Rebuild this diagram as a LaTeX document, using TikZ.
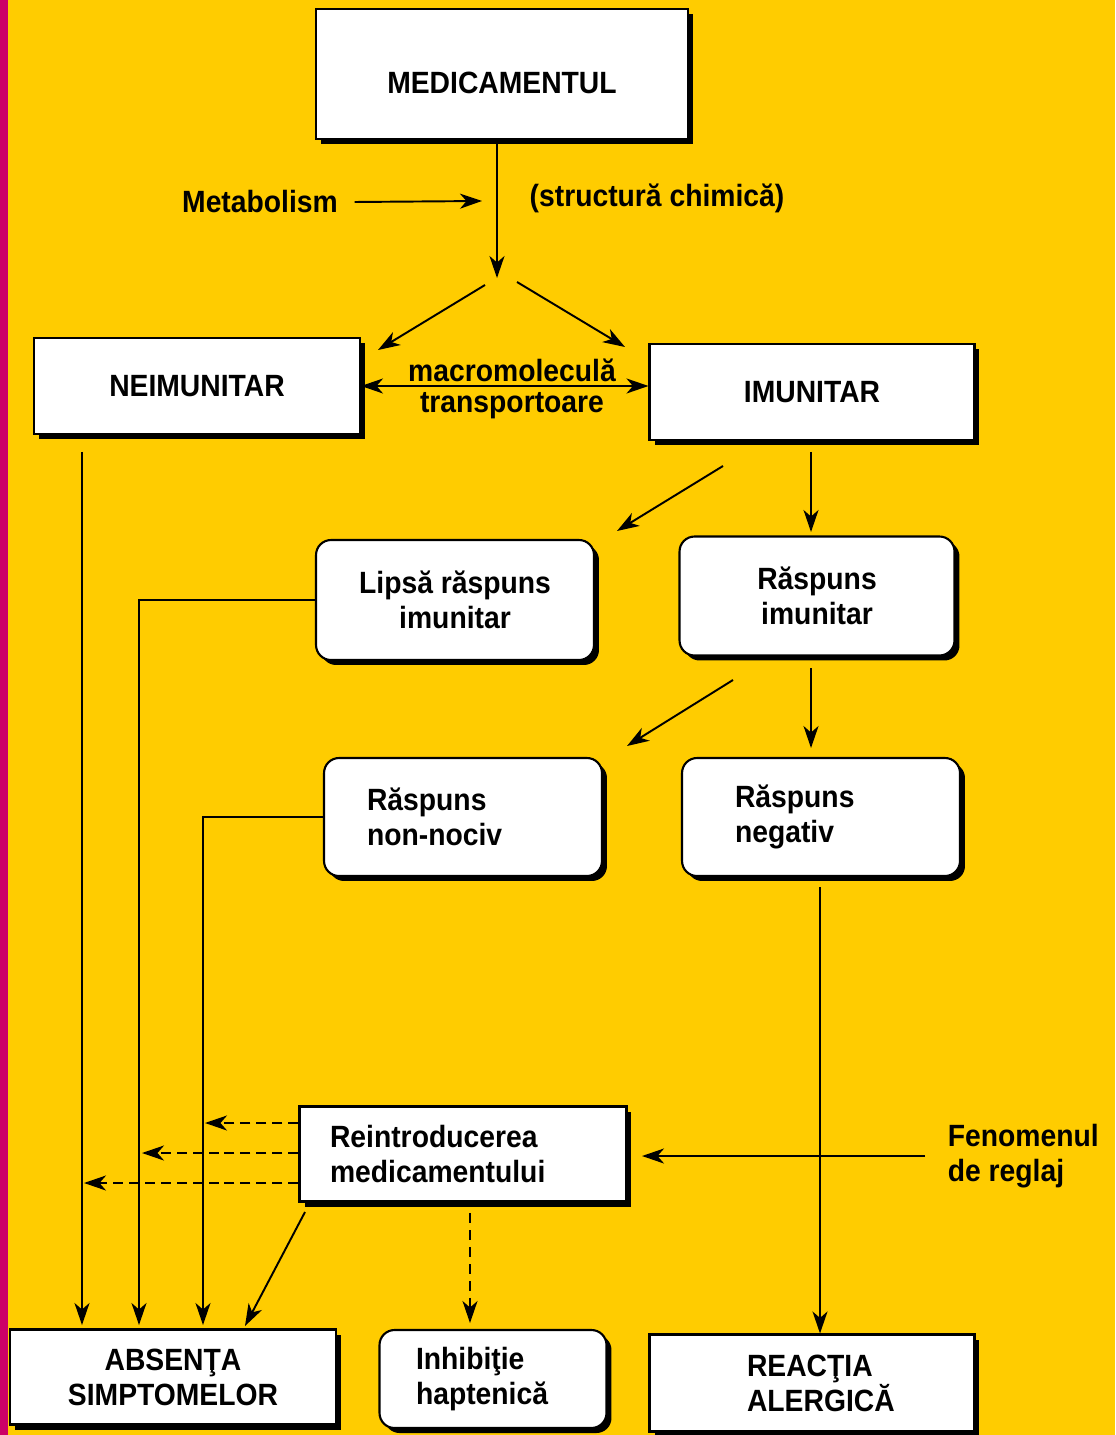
\documentclass[tikz,border=0pt]{standalone}
\usepackage{fontspec}
\setmainfont{Liberation Sans}[FakeStretch=0.92]
\usetikzlibrary{arrows.meta,shadows}
\definecolor{bgyellow}{HTML}{FFCC00}
\definecolor{bgmagenta}{HTML}{CC0066}
\begin{document}
\begin{tikzpicture}[x=0.02cm, y=-0.02cm, line width=1.1pt,
  >={Stealth[length=0.44cm, width=0.3cm, inset=0.13cm]},
  every node/.style={font=\bfseries\fontsize{17.5}{20}\selectfont},
  box/.style={draw, fill=white, rectangle, line width=1.2pt,
    drop shadow={shadow xshift=0.1cm, shadow yshift=-0.1cm, fill=black, opacity=1}},
  rbox/.style={box, rounded corners=0.3cm},
  dsh/.style={->, dash pattern=on 0.2cm off 0.12cm}]
  \fill[bgyellow] (0,0) rectangle (1115,1435);
  \fill[bgmagenta] (0,0) rectangle (8,1435);
  \node (M) [box, minimum width=7.44cm, minimum height=2.6cm, text height=0.8cm] at (502,74) {MEDICAMENTUL};
  \node (N) [box, minimum width=6.52cm, minimum height=1.92cm] at (197,386) {NEIMUNITAR};
  \node (I) [box, minimum width=6.5cm, minimum height=1.92cm] at (812,392) {IMUNITAR};
  \node (L) [rbox, minimum width=5.56cm, minimum height=2.4cm, align=center] at (455,600) {Lipsă răspuns\\imunitar};
  \node (R) [rbox, minimum width=5.5cm, minimum height=2.38cm, align=center] at (817,596) {Răspuns\\imunitar};
  \node (NN) [rbox, minimum width=5.56cm, minimum height=2.36cm, text width=3.84cm, align=left] at (463,817) {Răspuns\\non-nociv};
  \node (NG) [rbox, minimum width=5.56cm, minimum height=2.36cm, text width=3.44cm, align=left] at (821,817) {Răspuns\\negativ};
  \node (RE) [box, minimum width=6.54cm, minimum height=1.9cm, text width=5.32cm, align=left] at (463,1154) {Reintroducerea\\medicamentului};
  \node (AS) [box, minimum width=6.52cm, minimum height=1.9cm, align=center] at (173,1377) {ABSENŢA\\SIMPTOMELOR};
  \node (IH) [rbox, minimum width=4.54cm, minimum height=1.96cm, text width=3.08cm, align=left] at (493,1379) {Inhibiţie\\haptenică};
  \node (RA) [box, minimum width=6.5cm, minimum height=1.94cm, text width=2.6cm, align=left] at (812,1383) {REACŢIA\\ALERGICĂ};
  \node (met) at (260,202) {Metabolism};
  \node (chem) at (657,198) {(structură chimică)};
  \node (mac) at (512,370) {macromoleculă};
  \node (tra) at (512,406) {transportoare};
  \node (fen) [align=left, anchor=west] at (941,1156) {Fenomenul\\de reglaj};
  \coordinate (sp) at (497,278);
  \coordinate (mt) at (482,201);
  \coordinate (s1) at (485,285);
  \coordinate (s2) at (517,282);
  \coordinate (n1) at (378,350);
  \coordinate (i1) at (625,347);
  \coordinate (i2) at (723,466);
  \coordinate (l1) at (617,531);
  \coordinate (i3) at (811,452);
  \coordinate (r1) at (811,532);
  \coordinate (r2) at (733,680);
  \coordinate (nn1) at (627,746);
  \coordinate (r3) at (811,668);
  \coordinate (ng1) at (811,748);
  \coordinate (a1) at (82,452);
  \coordinate (a2) at (82,1325);
  \coordinate (b2) at (139,1325);
  \coordinate (c2) at (203,1325);
  \coordinate (g1) at (820,887);
  \coordinate (d1) at (205,1123);
  \coordinate (d2) at (142,1153);
  \coordinate (d3) at (84,1183);
  \coordinate (e1) at (305,1212);
  \coordinate (e2) at (245,1326);
  \coordinate (h1) at (470,1213);
  \coordinate (h2) at (470,1323);
  \coordinate (f1) at (925,1156);
  \coordinate (f2) at (642,1156);
  \draw[->] (M.south -| sp) -- (sp);
  \draw[->] ([xshift=0.2cm]met.east) -- (mt);
  \draw[->] (s1) -- (n1);
  \draw[->] (s2) -- (i1);
  \draw[<->] (N.east) -- (N.east -| I.west);
  \draw[->] (i2) -- (l1);
  \draw[->] (i3) -- (r1);
  \draw[->] (r2) -- (nn1);
  \draw[->] (r3) -- (ng1);
  \draw[->, line width=0.9pt] (a1) -- (a2);
  \draw[->, line width=0.9pt] (L.west) -| (b2);
  \draw[->, line width=0.9pt] (NN.west) -| (c2);
  \draw[->, line width=0.9pt] (g1) -- (g1 |- RA.north);
  \draw[dsh] (RE.west |- d1) -- (d1);
  \draw[dsh] (RE.west |- d2) -- (d2);
  \draw[dsh] (RE.west |- d3) -- (d3);
  \draw[->] (e1) -- (e2);
  \draw[->, line width=0.8pt, dash pattern=on 0.2cm off 0.14cm] (h1) -- (h2);
  \draw[->] (f1) -- (f2);
\end{tikzpicture}
\end{document}
